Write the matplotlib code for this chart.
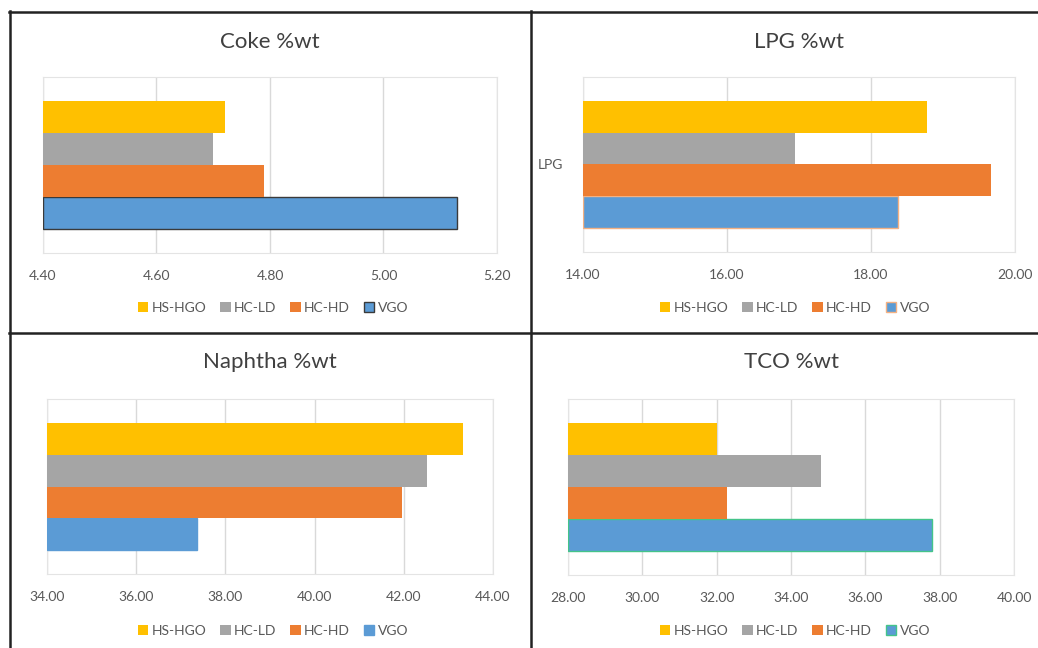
import matplotlib
matplotlib.use("Agg")
import matplotlib.pyplot as plt
import matplotlib.ticker as ticker
from matplotlib.patches import Patch
from matplotlib.lines import Line2D

plt.rcParams["font.family"] = ["Lato", "DejaVu Sans"]

W, H = 1038, 648

series = ["VGO", "HC-HD", "HC-LD", "HS-HGO"]
colors = ["#5B9BD5", "#ED7D31", "#A5A5A5", "#FFC000"]

titles = ["Coke %wt", "LPG %wt", "Naphtha %wt", "TCO %wt"]
coke = [5.13, 4.79, 4.70, 4.72]
lpg = [18.38, 19.67, 16.94, 18.78]
naphtha = [37.37, 41.96, 42.51, 43.33]
tco = [37.80, 32.27, 34.82, 32.02]

coke_ticks = [4.40, 4.60, 4.80, 5.00, 5.20]
lpg_ticks = [14.00, 16.00, 18.00, 20.00]
naphtha_ticks = [34.00, 36.00, 38.00, 40.00, 42.00, 44.00]
tco_ticks = [28.00, 30.00, 32.00, 34.00, 36.00, 38.00, 40.00]

category_labels = ["", "LPG", "", ""]

# plot-area boxes in pixels (left, top, right, bottom)
boxes = [(43, 77, 497, 253), (583, 77, 1015, 252),
         (47, 399, 493, 574), (568, 399, 1014, 575)]
title_y = [42, 42, 362, 362]
legend_pos = [(273, 308), (795, 308), (273, 631), (795, 631)]
vgo_edges = ["#3A3A3A", "#F4B183", "#5B9BD5", "#44C48A"]


def px_box(b):
    l, t, r, bt = b
    return [l / W, 1 - bt / H, (r - l) / W, (bt - t) / H]


fig = plt.figure(figsize=(W / 100, H / 100), dpi=100)
fig.patch.set_facecolor("white")

data = [coke, lpg, naphtha, tco]
ticks = [coke_ticks, lpg_ticks, naphtha_ticks, tco_ticks]

for i in range(4):
    ax = fig.add_axes(px_box(boxes[i]))
    lo, hi = ticks[i][0], ticks[i][-1]
    for j, name in enumerate(series):
        ec = vgo_edges[i] if name == "VGO" else colors[j]
        lw = 1.0 if name == "VGO" else 0
        ax.barh(j, data[i][j] - lo, left=lo, height=1.0, color=colors[j],
                edgecolor=ec, linewidth=lw, zorder=3)
    ax.set_xlim(lo, hi)
    ax.set_ylim(-1.235, 4.235)
    ax.set_xticks(ticks[i])
    ax.xaxis.set_major_formatter(ticker.FormatStrFormatter("%.2f"))
    ax.grid(axis="x", color="#D9D9D9", linewidth=1.0, zorder=0)
    ax.set_yticks([1.5])
    ax.set_yticklabels([category_labels[i]])
    ax.tick_params(axis="both", length=0, labelsize=10, colors="#595959")
    ax.tick_params(axis="x", pad=12)
    ax.tick_params(axis="y", pad=14)
    for s in ax.spines.values():
        s.set_color("#E4E4E4")
        s.set_linewidth(0.8)

    l, t, r, b = boxes[i]
    cx = (l + r) / 2 / W
    fig.text(cx, 1 - title_y[i] / H, titles[i], ha="center", va="center",
             fontsize=16, color="#404040")

    handles = []
    for j in [3, 2, 1, 0]:
        ec = vgo_edges[i] if series[j] == "VGO" else colors[j]
        handles.append(Patch(facecolor=colors[j], edgecolor=ec,
                             linewidth=1.0 if series[j] == "VGO" else 0))
    lx, ly = legend_pos[i]
    fig.legend(handles, [series[j] for j in [3, 2, 1, 0]], loc="center",
               bbox_to_anchor=(lx / W, 1 - ly / H), ncol=4, frameon=False,
               fontsize=10, labelcolor="#595959", handlelength=0.75,
               handleheight=0.75, handletextpad=0.25, columnspacing=1.0)

# panel borders
line_kw = dict(color="#222222", linewidth=1.8, transform=fig.transFigure)
fig.add_artist(Line2D([9 / W, 1], [1 - 11.5 / H, 1 - 11.5 / H], **line_kw))
fig.add_artist(Line2D([9.5 / W, 9.5 / W], [1 - 11 / H, 0], **line_kw))
fig.add_artist(Line2D([531 / W, 531 / W], [1 - 11 / H, 0], **line_kw))
fig.add_artist(Line2D([9 / W, 1], [1 - 333 / H, 1 - 333 / H], **line_kw))

fig.savefig("out.png", dpi=100)
